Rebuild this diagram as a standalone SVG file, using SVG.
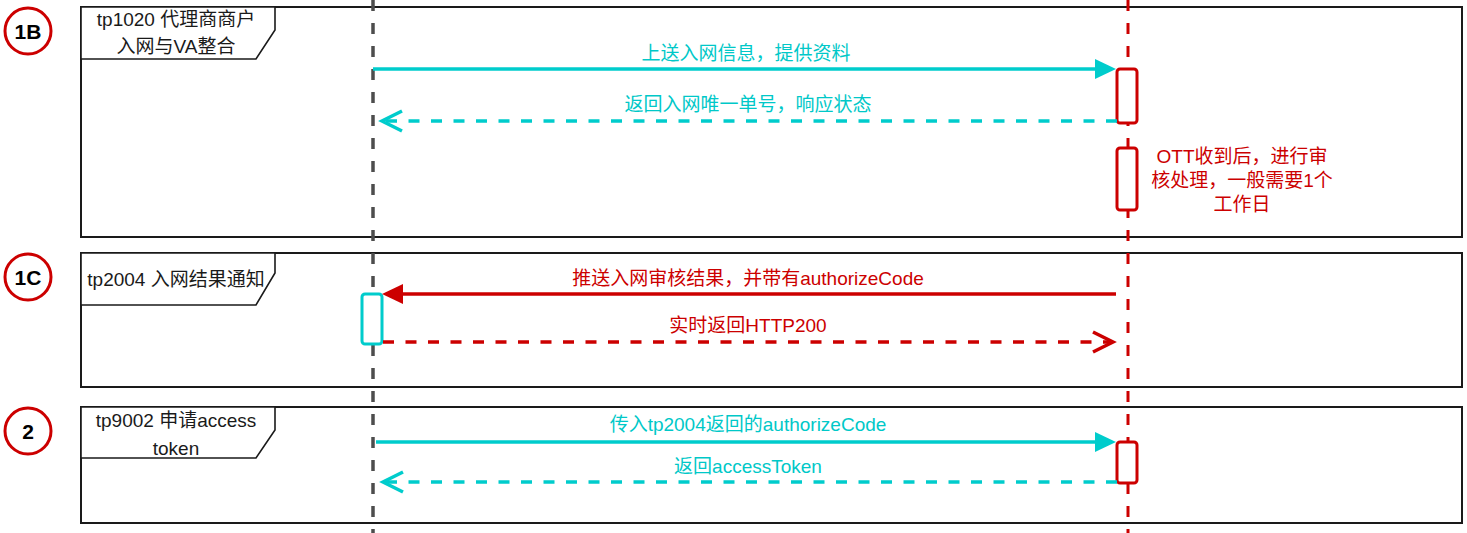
<svg xmlns="http://www.w3.org/2000/svg" width="1467" height="533" viewBox="0 0 1467 533">
<defs>
<style>
text{font-family:"Liberation Sans","Noto Sans CJK SC",sans-serif;font-size:19px}
.frame{fill:none;stroke:#1a1a1a;stroke-width:2}
.lbl{fill:#fff;stroke:#1a1a1a;stroke-width:1.6}
.lt{fill:#1a1a1a;text-anchor:middle}
.num{fill:#fff;stroke:#CC0000;stroke-width:3}
.numt{fill:#000;font-weight:bold;font-size:21px;text-anchor:middle}
.cy{stroke:#00CCCC;stroke-width:3.5;fill:none}
.rd{stroke:#CC0000;stroke-width:3.5;fill:none}
.dash{stroke-dasharray:11 11.5}
.cyt{fill:#00C8C8;text-anchor:middle}
.rdt{fill:#CC0000;text-anchor:middle}
.actR{fill:#fff;stroke:#CC0000;stroke-width:3}
.actC{fill:#fff;stroke:#00CCCC;stroke-width:3}
</style>
</defs>
<g id="frames">
<g id="frame-1B">
<rect class="frame" x="81" y="7" width="1381" height="230"/>
<path class="lbl" d="M81,7 H275 V30 L256,59 H81 Z"/>
<text class="lt" x="176" y="26">tp1020 代理商商户</text>
<text class="lt" x="176" y="53">入网与VA整合</text>
<circle class="num" cx="28" cy="31" r="23"/>
<text class="numt" x="28" y="39">1B</text>
</g>
<g id="frame-1C">
<rect class="frame" x="81" y="253" width="1381" height="134"/>
<path class="lbl" d="M81,253 H275 V273 L256,305 H81 Z"/>
<text class="lt" x="176" y="286">tp2004 入网结果通知</text>
<circle class="num" cx="28" cy="277" r="23"/>
<text class="numt" x="28" y="285">1C</text>
</g>
<g id="frame-2">
<rect class="frame" x="81" y="407" width="1381" height="116"/>
<path class="lbl" d="M81,407 H275 V430 L256,458 H81 Z"/>
<text class="lt" x="176" y="427">tp9002 申请access</text>
<text class="lt" x="176" y="455">token</text>
<circle class="num" cx="28" cy="431" r="23"/>
<text class="numt" x="28" y="439">2</text>
</g>
</g>
<g id="lifelines">
<line id="lifeline-left" x1="373" y1="0" x2="373" y2="533" stroke="#4d4d4d" stroke-width="3.5" stroke-dasharray="11 12"/>
<line id="lifeline-right" x1="1128" y1="0" x2="1128" y2="533" stroke="#CC0000" stroke-width="3" stroke-dasharray="11 12"/>
</g>
<g id="activations">
<rect class="actR" x="1117" y="69" width="20" height="54" rx="3"/>
<rect class="actR" x="1117" y="148" width="20" height="62" rx="3"/>
<rect class="actC" x="362" y="294" width="20" height="50" rx="3"/>
<rect class="actR" x="1117" y="442" width="20" height="41" rx="3"/>
</g>
<g id="connectors">
<line class="cy" x1="373" y1="69" x2="1097" y2="69"/>
<polygon points="1116,69 1095,59 1095,79" fill="#00CCCC"/>
<text class="cyt" x="746" y="60">上送入网信息，提供资料</text>
<line class="cy dash" x1="1117" y1="121" x2="384" y2="121"/>
<polyline class="cy" points="402,111 382,121 402,131"/>
<text class="cyt" x="748" y="111">返回入网唯一单号，响应状态</text>
<text class="rdt" x="1242" y="163">OTT收到后，进行审</text>
<text class="rdt" x="1242" y="187">核处理，一般需要1个</text>
<text class="rdt" x="1242" y="211">工作日</text>
<line class="rd" x1="1116" y1="294" x2="401" y2="294"/>
<polygon points="382,294 403,284 403,304" fill="#CC0000"/>
<text class="rdt" x="748" y="285">推送入网审核结果，并带有authorizeCode</text>
<line class="rd dash" x1="383" y1="342" x2="1110" y2="342"/>
<polyline class="rd" points="1093,332 1113,342 1093,352"/>
<text class="rdt" x="748" y="332">实时返回HTTP200</text>
<line class="cy" x1="376" y1="442" x2="1097" y2="442"/>
<polygon points="1116,442 1095,432 1095,452" fill="#00CCCC"/>
<text class="cyt" x="748" y="431">传入tp2004返回的authorizeCode</text>
<line class="cy dash" x1="1117" y1="482" x2="385" y2="482"/>
<polyline class="cy" points="403,472 383,482 403,492"/>
<text class="cyt" x="748" y="473">返回accessToken</text>
</g>
</svg>
